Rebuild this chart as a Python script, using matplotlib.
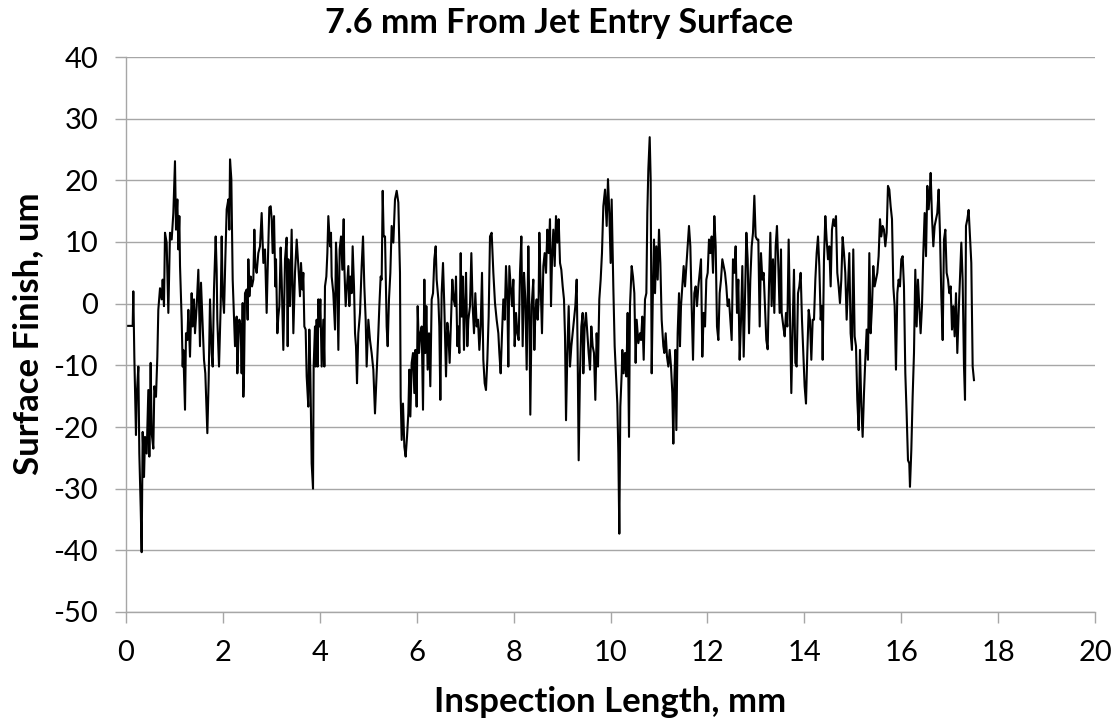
import matplotlib
matplotlib.use("Agg")
import matplotlib.pyplot as plt

# profile trace (inspection length in mm, finish in um)
length_mm = [
    0.000, 0.138, 0.151, 0.172, 0.206, 0.220, 0.255, 0.275, 0.303, 0.323,
    0.344, 0.372, 0.392, 0.427, 0.461, 0.482, 0.509, 0.530, 0.564, 0.585,
    0.619, 0.647, 0.667, 0.702, 0.736, 0.757, 0.784, 0.805, 0.839, 0.874,
    0.908, 0.943, 0.977, 1.011, 1.032, 1.060, 1.080, 1.101, 1.115, 1.149,
    1.170, 1.183, 1.218, 1.238, 1.266, 1.287, 1.321, 1.355, 1.376, 1.404,
    1.424, 1.459, 1.493, 1.527, 1.548, 1.582, 1.610, 1.637, 1.679, 1.706,
    1.734, 1.768, 1.789, 1.816, 1.851, 1.871, 1.885, 1.920, 1.954, 1.975,
    1.995, 2.023, 2.050, 2.078, 2.112, 2.133, 2.147, 2.174, 2.202, 2.229,
    2.250, 2.284, 2.298, 2.325, 2.339, 2.367, 2.387, 2.408, 2.422, 2.436,
    2.456, 2.491, 2.511, 2.525, 2.546, 2.573, 2.601, 2.628, 2.649, 2.669,
    2.697, 2.731, 2.766, 2.800, 2.835, 2.869, 2.903, 2.924, 2.958, 2.986,
    3.007, 3.027, 3.055, 3.082, 3.096, 3.124, 3.144, 3.165, 3.192, 3.213,
    3.247, 3.282, 3.316, 3.337,
    3.351, 3.385, 3.419, 3.454, 3.488, 3.523, 3.557, 3.591, 3.612, 3.640,
    3.660, 3.681, 3.708, 3.729, 3.763, 3.784, 3.805, 3.832, 3.860, 3.873,
    3.901, 3.915, 3.935, 3.956, 3.970, 3.990, 4.011, 4.039, 4.073, 4.094,
    4.107, 4.135, 4.156, 4.176, 4.211, 4.231, 4.245, 4.279, 4.314, 4.334,
    4.355, 4.383, 4.410, 4.438, 4.465, 4.493, 4.506, 4.534, 4.561, 4.589,
    4.610, 4.630, 4.658, 4.678, 4.706, 4.727, 4.747, 4.768, 4.795, 4.830,
    4.864, 4.892, 4.919, 4.947, 4.967, 5.002, 5.036, 5.070, 5.105, 5.139,
    5.174, 5.208, 5.229, 5.256, 5.277, 5.298, 5.318, 5.346, 5.380, 5.401,
    5.428, 5.456, 5.483, 5.518, 5.552, 5.587, 5.621, 5.655, 5.669, 5.690,
    5.717, 5.745, 5.772, 5.800, 5.827, 5.848, 5.869, 5.896, 5.924, 5.951,
    5.972, 5.999, 6.020, 6.048, 6.075, 6.103, 6.130, 6.158, 6.178, 6.199,
    6.226, 6.254, 6.281, 6.309, 6.337, 6.364, 6.392, 6.412, 6.447, 6.467,
    6.488, 6.515, 6.543, 6.570, 6.605, 6.632, 6.653, 6.680, 6.708, 6.735,
    6.763,
    6.791, 6.811, 6.839, 6.859, 6.880, 6.908, 6.928, 6.949, 6.976, 6.997,
    7.018, 7.045, 7.066, 7.100, 7.128, 7.155, 7.183, 7.210, 7.238, 7.265,
    7.293, 7.320, 7.348, 7.375, 7.403, 7.430, 7.458, 7.485, 7.513, 7.547,
    7.582, 7.616, 7.650, 7.685, 7.706, 7.733, 7.761, 7.788, 7.816, 7.843,
    7.871, 7.891, 7.912, 7.940, 7.967, 7.995, 8.022, 8.050, 8.077, 8.105,
    8.132, 8.160, 8.187, 8.215, 8.242, 8.270, 8.304, 8.325, 8.345, 8.373,
    8.407, 8.428, 8.449, 8.476, 8.497, 8.517, 8.531, 8.559, 8.586, 8.614,
    8.641, 8.669, 8.696, 8.724, 8.751, 8.772, 8.793, 8.820, 8.848, 8.875,
    8.903, 8.930, 8.958, 8.985, 9.013, 9.040, 9.061, 9.082, 9.109, 9.137,
    9.164, 9.192, 9.219, 9.247, 9.274, 9.302, 9.322, 9.343, 9.370, 9.398,
    9.426, 9.439, 9.467, 9.494, 9.522, 9.549, 9.577, 9.604, 9.632, 9.659,
    9.687, 9.714, 9.742, 9.769, 9.797, 9.824, 9.852, 9.887, 9.921, 9.948,
    9.976, 10.003, 10.024, 10.058, 10.086, 10.113, 10.141, 10.162, 10.182,
    10.203, 10.231, 10.244, 10.272, 10.299, 10.327, 10.354, 10.382, 10.402,
    10.437, 10.464, 10.492, 10.519, 10.540, 10.575, 10.609, 10.630, 10.657,
    10.685, 10.712, 10.740, 10.760, 10.781, 10.809, 10.829, 10.850, 10.870,
    10.898, 10.919, 10.946, 10.974, 11.001, 11.029, 11.056, 11.091, 11.111,
    11.139, 11.166, 11.194, 11.221, 11.249, 11.276, 11.297, 11.318, 11.338,
    11.359, 11.386, 11.414, 11.434, 11.455, 11.483, 11.510, 11.538, 11.565,
    11.593, 11.620, 11.648, 11.675, 11.703, 11.730, 11.758, 11.785, 11.813,
    11.840, 11.868, 11.895, 11.923, 11.951, 11.978, 12.006, 12.033, 12.061,
    12.088, 12.116, 12.143, 12.171, 12.198, 12.226, 12.253, 12.281, 12.308,
    12.336, 12.363, 12.391, 12.418, 12.446, 12.473, 12.501, 12.528, 12.556,
    12.583, 12.611, 12.638, 12.666, 12.694, 12.721, 12.749, 12.776, 12.804,
    12.831, 12.859, 12.886, 12.914, 12.941, 12.969, 12.996, 13.024, 13.051,
    13.079, 13.106, 13.134, 13.161, 13.189, 13.216, 13.244, 13.271, 13.299,
    13.326, 13.354, 13.381, 13.409, 13.436, 13.464, 13.491, 13.519,
    13.533, 13.567, 13.595, 13.622, 13.650, 13.677, 13.705, 13.732, 13.760,
    13.787, 13.815, 13.842, 13.870, 13.897, 13.925, 13.952, 13.980, 14.007,
    14.035, 14.062, 14.090, 14.117, 14.145, 14.173, 14.200, 14.228, 14.255,
    14.283, 14.310, 14.338, 14.365, 14.379, 14.406, 14.434, 14.461, 14.489,
    14.516, 14.544, 14.571, 14.599, 14.626, 14.654, 14.681, 14.709, 14.736,
    14.764, 14.791, 14.819, 14.846, 14.874, 14.901, 14.929, 14.956, 14.984,
    15.011, 15.039, 15.067, 15.094, 15.122, 15.149, 15.177, 15.204, 15.232,
    15.259, 15.287, 15.314, 15.342, 15.369, 15.397, 15.424, 15.452, 15.479,
    15.507, 15.534, 15.562, 15.589, 15.617, 15.644, 15.672, 15.700, 15.727,
    15.755, 15.782, 15.810, 15.837, 15.865, 15.892, 15.920, 15.947, 15.975,
    16.002, 16.030, 16.057, 16.085, 16.112, 16.140, 16.167, 16.181, 16.209,
    16.236, 16.264, 16.291, 16.319, 16.346, 16.374, 16.401, 16.429, 16.456,
    16.484, 16.512, 16.539, 16.567, 16.594, 16.608, 16.635, 16.663, 16.690,
    16.718, 16.745, 16.773, 16.800, 16.828, 16.856, 16.883, 16.911, 16.938,
    16.966, 16.993, 17.021, 17.048, 17.076, 17.103, 17.131, 17.158, 17.186,
    17.213, 17.241, 17.268, 17.296, 17.317, 17.337, 17.365, 17.392, 17.420,
    17.447, 17.475, 17.502,
]

finish_um = [
    -3.6, -3.6, 2.0, -8.6, -21.3, -15.1, -10.2, -24.3, -33.0, -40.3,
    -20.8, -28.1, -21.6, -24.3, -14.0, -24.8, -9.6, -21.0, -23.5, -13.4,
    -15.1, -8.6, -1.0, 2.5, 0.7, 3.9, -0.4, 11.5, 9.9, -1.5,
    11.5, 10.4, 14.7, 23.1, 12.0, 16.9, 8.8, 14.2, 6.1, -2.6,
    -10.2, -7.5, -17.2, -4.8, -5.9, -1.0, -8.6, 1.7, -3.7, 0.7,
    -4.8, -0.4, 5.5, -6.9, 3.4, -3.7, -9.1, -11.3, -21.0, -12.4,
    0.7, -8.0, -10.2, 2.3, 10.9, 5.5, -2.6, -10.2, -0.4, 10.9,
    1.7, -1.5, 7.2, 15.3, 16.9, 12.0, 23.4, 20.2, 3.9, -2.1,
    -6.9, -2.1, -11.3, -4.8, -2.6, -3.7, -11.3, 0.1, -15.1, -11.3,
    1.7, 2.3, -2.6, 7.2, 1.2, 4.4, 2.8, 3.9, 12.0, 6.1,
    5.0, 8.2, 9.3, 14.7, 6.6, 8.8, -1.5, 5.5, 15.6, 15.8,
    13.7, 8.2, 14.2, 2.8, 7.2, -4.8, -2.1, -0.4, 9.1, 3.9,
    -7.5, 7.2, 10.7, -6.9,
    7.2, -0.4, 12.0, -4.8, 5.0, 10.4, 6.1, 1.2, 6.6, 2.3,
    5.0, -3.7, -4.2, -11.8, -16.7, -4.2, -11.3, -25.9, -30.0, -10.2,
    -3.7, -10.2, -2.6, -10.2, 0.7, -3.7, 0.7, -10.2, -2.6, -10.2,
    2.8, 4.4, 8.2, 14.2, 9.3, 11.5, 4.4, 1.7, -4.2, 9.9,
    6.1, -7.5, 8.8, 10.9, 5.5, 13.7, 6.1, -0.4, 2.8, 6.1,
    -0.4, 4.4, 1.7, 9.3, 2.8, -4.8, -6.9, -12.9, -4.8, -1.5,
    6.1, 10.9, 2.8, -2.6, -10.2, -2.6, -5.9, -8.0, -10.7, -17.8,
    -11.3, -4.8, -0.4, 4.4, 3.9, 18.3, 10.9, 10.9, -3.7, -6.9,
    0.7, 5.0, 12.6, 9.9, 16.9, 18.3, 16.4, 5.0, -15.1, -22.1,
    -16.2, -23.2, -24.8, -21.6, -17.8, -10.7, -18.3, -9.6, -8.0, -14.5,
    -7.5, -16.7, -0.4, -8.0, -4.8, -3.7, -17.2, 3.9, -8.0, -0.4,
    -10.7, -4.8, -13.4, 0.7, 1.7, 7.2, 9.3, 3.9, 0.7, -3.7,
    -15.6, 1.7, 6.6, -0.4, -11.8, -3.1, -4.8, -9.6, -2.6, 3.9,
    0.7,
    -0.4, 4.4, -6.9, -3.7, -8.0, 8.2, -2.1, 4.4, -7.5, -0.4,
    5.0, -6.9, -2.6, -0.4, 8.2, -0.4, -4.8, 1.7, -3.7, -2.6,
    -7.5, -3.7, 5.0, -9.1, -12.9, -14.0, -9.1, -2.1, 10.9, 11.5,
    5.0, 0.1, -2.6, -4.8, -8.0, -11.3, -4.8, 0.7, -2.6, 6.1,
    0.7, -10.2, 6.1, 2.8, -0.4, 3.9, -6.9, -1.5, -4.8, -5.9,
    5.0, 10.9, -6.9, 5.0, 0.7, -10.7, 9.3, -0.4, -18.0, -0.4,
    3.9, -7.5, -1.5, 0.7, -2.6, 0.7, 11.5, 2.8, -4.8, 6.1,
    8.2, 5.0, 12.0, 8.2, 13.7, -0.4, 7.2, 12.0, 6.1, 14.2,
    9.9, 13.7, 6.6, 5.5, 2.8, 0.7, -5.3, -18.9, -8.0, -0.4,
    -10.2, -6.9, -4.8, -2.6, -0.4, 3.9, -8.0, -25.4, -11.3, -3.7,
    -1.5, -11.3, -3.7, -1.5, -4.8, -8.0, -10.7, -3.7, -6.9, -8.0,
    -15.6, -4.8, -10.2, 0.7, 3.9, 8.2, 15.8, 18.5, 12.6, 20.2,
    14.7, 6.6, 16.9, 2.8, -6.9, -11.3, -16.2, -24.3, -37.3,
    -16.7, -11.3, -7.5, -11.3, -8.0, -11.8, -1.5, -21.6, -0.4,
    6.1, 4.4, 1.7, -9.6, -2.6, -6.4, -4.8, -5.9, -2.1,
    -9.1, 0.7, 1.7, 14.7, 21.8, 27.0, 20.2, -11.3, -0.4,
    10.4, 1.7, 9.3, 3.9, 12.0, 6.6, -2.6, -6.9, -8.0,
    -4.8, -8.6, -10.2, -7.5, -10.2, -14.5, -22.7, -12.4, -7.5,
    -20.5, -4.8, 1.7, -6.9, -0.4, 2.8, 6.1, 2.8, 6.1,
    9.3, 12.6, 9.3, -0.4, -9.1, 1.7, 2.8, -0.4, 2.8,
    5.0, 7.2, -8.6, -1.5, -3.7, 3.9, 5.0, 10.4, 8.2,
    10.9, 5.0, 14.2, 9.3, -3.7, -5.9, 1.7, 3.9, 7.2,
    6.1, 5.0, 2.8, -0.4, 0.7, -2.6, -5.9, 7.2, 5.0,
    9.3, -1.5, 3.9, -9.1, -2.6, 6.1, -8.6, 0.7, 11.5,
    7.2, -4.8, 3.9, 9.3, 11.5, 17.5, 10.9, 10.4, 10.4,
    -3.7, 8.2, 3.9, 5.0, -0.4, -5.9, -7.4, 2.8, 11.5,
    -0.4, 7.2, -1.5, 9.3, 12.6, 6.1, -1.5, 8.8,
    -1.5, -3.7, -5.3, -1.5, -3.7, 10.4, -2.6, -14.5, -3.7,
    5.5, -9.6, -10.2, 1.7, 2.8, 5.0, -2.6, -8.0, -13.4,
    -16.2, -8.0, -1.0, -2.6, -9.1, -2.6, -2.6, 3.9, 8.2,
    10.9, 6.1, -2.6, -0.4, -9.1, 7.2, 14.2, 10.4, 7.2,
    9.3, 2.8, 12.0, 13.7, 12.6, 14.2, 5.0, 2.8, 0.1,
    3.9, 10.8, 8.2, 5.0, -2.6, 2.8, 8.2, -4.8, -7.5,
    8.8, -5.3, -6.9, -15.6, -20.5, -7.5, -16.7, -21.6, -14.5,
    -9.1, -4.2, -9.1, 8.2, -4.8, -0.4, 6.1, 2.8, 3.9,
    5.0, 7.7, 13.7, 10.9, 12.6, 12.0, 9.3, 11.5, 19.1,
    18.5, 15.8, 13.7, 2.8, -0.4, -10.7, 1.7, 3.9, 2.8,
    7.2, 7.7, 2.8, -11.3, -17.8, -25.4, -25.9, -29.7, -23.7,
    -15.1, -8.0, 5.5, -3.7, 3.9, -0.4, -4.8, -0.4, 8.2,
    14.7, 7.7, 19.1, 15.3, 18.5, 21.2, 14.2, 9.3, 12.6,
    13.7, 14.7, 18.5, 11.5, 1.2, -5.9, 10.4, 12.0, 5.0,
    3.9, 1.7, 2.8, -4.2, -0.4, -5.3, 1.7, -8.0, -1.5,
    3.9, 9.9, 3.9, -10.2, -15.6, 12.6, 13.7, 15.2, 10.9,
    6.6, -10.2, -12.4,
]

x_ticks = list(range(0, 21, 2))
y_ticks = list(range(-50, 41, 10))

plt.rcParams['font.family'] = ['Lato', 'DejaVu Sans']
plt.rcParams['axes.unicode_minus'] = False

W, H = 1119, 726
fig = plt.figure(figsize=(W / 100, H / 100), dpi=100)
ax = fig.add_axes([126 / W, 1 - 612 / H, (1095 - 126) / W, (612 - 57) / H])

ax.plot(length_mm, finish_um, color='black', linewidth=1.5)

ax.set_xlim(0, 20)
ax.set_ylim(-50, 40)
ax.set_xticks(x_ticks)
ax.set_yticks(y_ticks)

grid_col = '#a6a6a6'
ax.yaxis.grid(True, color=grid_col, linewidth=1.0)
ax.set_axisbelow(True)
for side in ['top', 'right']:
    ax.spines[side].set_visible(False)
for side in ['left', 'bottom']:
    ax.spines[side].set_color(grid_col)
    ax.spines[side].set_linewidth(1.0)

ax.tick_params(axis='both', colors=grid_col, length=8, width=1.0,
               labelsize=21, labelcolor='black')
ax.tick_params(axis='x', pad=12)
ax.tick_params(axis='y', pad=12)

# titles placed like the spreadsheet chart: title centred on the whole figure
fig.text(0.5, 1 - 33 / H, '7.6 mm From Jet Entry Surface', ha='center', va='baseline',
         fontsize=24.5, fontweight='bold')
fig.text((126 + 1095) / 2 / W, 1 - 712 / H, 'Inspection Length, mm', ha='center',
         va='baseline', fontsize=25, fontweight='bold')
fig.text(44 / W, 1 - 334 / H, 'Surface Finish, um', ha='right', va='center',
         rotation=90, fontsize=25, fontweight='bold')

fig.savefig('out.png', dpi=100, facecolor='white')
